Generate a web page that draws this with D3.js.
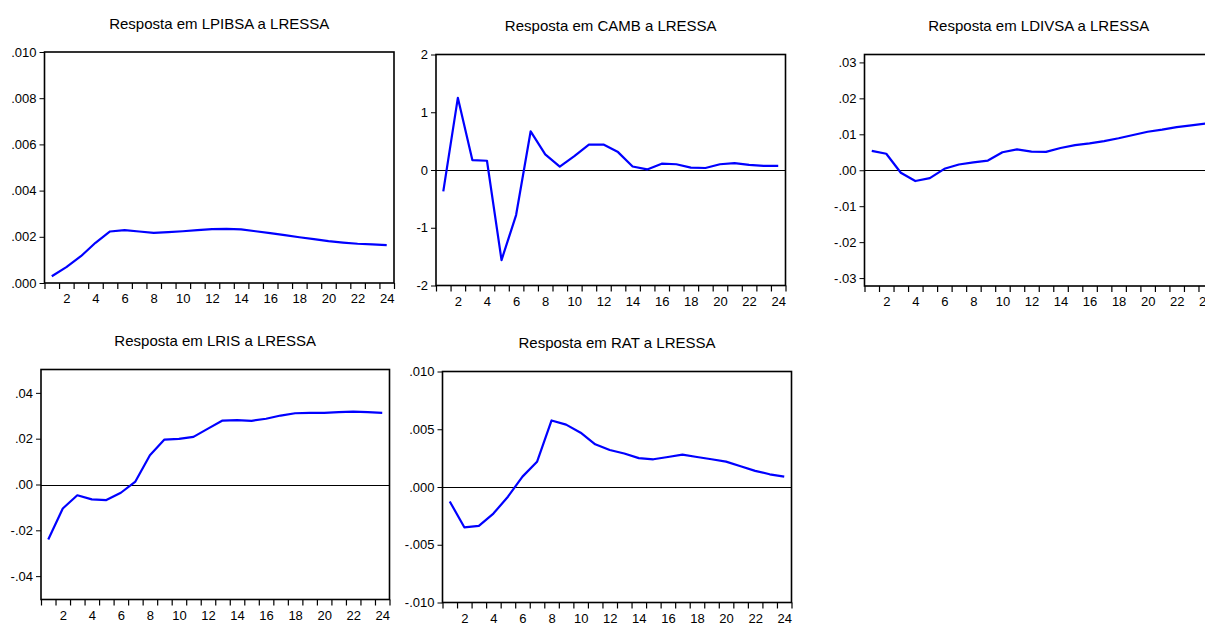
<!DOCTYPE html>
<html>
<head>
<meta charset="utf-8">
<script src="https://cdn.jsdelivr.net/npm/d3@7"></script>
<style>
  body { margin: 0; background: #fff; }
  svg { display: block; }
  text { font-family: "Liberation Sans", Arial, sans-serif; fill: #000; }
</style>
</head>
<body>
<svg id="chart" width="1205" height="624"></svg>
<script>
// periods after the shock
var periods = [1,2,3,4,5,6,7,8,9,10,11,12,13,14,15,16,17,18,19,20,21,22,23,24];
var xLabels = [2,4,6,8,10,12,14,16,18,20,22,24];

// responses to LRESSA
var lpibsa = [0.00029,0.00069,0.00116,0.00174,0.00223,0.00229,0.00223,0.00217,0.00220,0.00224,0.00229,0.00233,
              0.00234,0.00232,0.00224,0.00216,0.00207,0.00198,0.00190,0.00181,0.00175,0.00170,0.00167,0.00164];
var camb   = [-0.37,1.25,0.17,0.16,-1.56,-0.78,0.67,0.27,0.06,0.24,0.44,0.44,
              0.31,0.06,0.01,0.11,0.10,0.04,0.035,0.10,0.12,0.09,0.07,0.07];
var ldivsa = [0.0054,0.0046,-0.0007,-0.0030,-0.0022,0.0004,0.0016,0.0022,0.0027,0.0050,0.0058,0.0052,
              0.0051,0.0062,0.0070,0.0075,0.0081,0.0089,0.0098,0.0107,0.0113,0.0120,0.0125,0.0130];
var lris   = [-0.0240,-0.0105,-0.0047,-0.0065,-0.0068,-0.0036,0.0013,0.0128,0.0196,0.0199,0.0208,0.0244,
              0.0279,0.0281,0.0278,0.0287,0.0301,0.0311,0.0313,0.0313,0.0316,0.0318,0.0316,0.0313];
var rat    = [-0.00125,-0.00349,-0.00337,-0.0023,-0.00084,0.0009,0.00218,0.00576,0.0054,0.0047,0.0037,0.0032,
              0.0029,0.0025,0.0024,0.0026,0.0028,0.0026,0.0024,0.0022,0.0018,0.0014,0.0011,0.0009];

// y ticks
var ticksLpibsa = [0, 0.002, 0.004, 0.006, 0.008, 0.010];
var labelsLpibsa = [".000", ".002", ".004", ".006", ".008", ".010"];
var ticksCamb = [-2, -1, 0, 1, 2];
var labelsCamb = ["-2", "-1", "0", "1", "2"];
var ticksLdivsa = [-0.03, -0.02, -0.01, 0, 0.01, 0.02, 0.03];
var labelsLdivsa = ["-.03", "-.02", "-.01", ".00", ".01", ".02", ".03"];
var ticksLris = [-0.04, -0.02, 0, 0.02, 0.04];
var labelsLris = ["-.04", "-.02", ".00", ".02", ".04"];
var ticksRat = [-0.010, -0.005, 0, 0.005, 0.010];
var labelsRat = ["-.010", "-.005", ".000", ".005", ".010"];

var panels = [
  {title: "Resposta em LPIBSA a LRESSA", values: lpibsa, domain: [0, 0.010], ticks: ticksLpibsa, labels: labelsLpibsa,
   x0: 44.5, x1: 394, y0: 52, y1: 283, zero: false},
  {title: "Resposta em CAMB a LRESSA", values: camb, domain: [-2, 2], ticks: ticksCamb, labels: labelsCamb,
   x0: 436, x1: 785.5, y0: 54.5, y1: 285.5, zero: true},
  {title: "Resposta em LDIVSA a LRESSA", values: ldivsa, domain: [-0.0322, 0.0322], ticks: ticksLdivsa, labels: labelsLdivsa,
   x0: 864.5, x1: 1213, y0: 54.5, y1: 286, zero: true},
  {title: "Resposta em LRIS a LRESSA", values: lris, domain: [-0.0502, 0.0502], ticks: ticksLris, labels: labelsLris,
   x0: 41, x1: 389.5, y0: 369.5, y1: 599.5, zero: true},
  {title: "Resposta em RAT a LRESSA", values: rat, domain: [-0.010, 0.010], ticks: ticksRat, labels: labelsRat,
   x0: 442.5, x1: 791.5, y0: 371.5, y1: 602.5, zero: true}
];

var svg = d3.select("#chart");

panels.forEach(function(p) {
  var g = svg.append("g");

  var x = d3.scaleLinear().domain([0.5, 24.5]).range([p.x0, p.x1]);
  var y = d3.scaleLinear().domain(p.domain).range([p.y1, p.y0]);

  // title
  g.append("text")
    .attr("x", (p.x0 + p.x1) / 2)
    .attr("y", p.y0 - 23.5)
    .attr("text-anchor", "middle")
    .attr("font-size", "15px")
    .text(p.title);

  // zero line, snapped to the pixel grid so it stays black
  if (p.zero) {
    var zy = Math.round(y(0)) + 0.5;
    g.append("line")
      .attr("x1", p.x0).attr("x2", p.x1)
      .attr("y1", zy).attr("y2", zy)
      .attr("stroke", "#000").attr("stroke-width", 1);
  }

  // response line
  var line = d3.line()
    .x(function(d, i) { return x(periods[i]); })
    .y(function(d) { return y(d); });
  g.append("path")
    .datum(p.values)
    .attr("d", line)
    .attr("fill", "none")
    .attr("stroke", "#0000ff")
    .attr("stroke-width", 2.2)
    .attr("stroke-linejoin", "round");

  // y axis
  var ya = g.append("g")
    .attr("transform", "translate(" + p.x0 + ",0)")
    .call(d3.axisLeft(y).tickValues(p.ticks).tickSize(5).tickPadding(3)
      .tickFormat(function(d, i) { return p.labels[i]; }));
  ya.select(".domain").remove();
  ya.selectAll("text").attr("font-size", "13px").attr("font-family", null);
  ya.selectAll("line").attr("stroke", "#000");

  // x ticks on bin edges
  var edges = periods.map(function(d) { return d - 0.5; }).concat([24.5]);
  var xt = g.append("g")
    .attr("transform", "translate(0," + p.y1 + ")")
    .call(d3.axisBottom(x).tickValues(edges).tickSize(6).tickFormat(""));
  xt.select(".domain").remove();
  xt.selectAll("line").attr("stroke", "#000").attr("stroke-width", 1.2);

  // x labels at period centres
  var xl = g.append("g")
    .attr("transform", "translate(0," + p.y1 + ")")
    .call(d3.axisBottom(x).tickValues(xLabels).tickSize(0).tickPadding(11).tickFormat(d3.format("d")));
  xl.select(".domain").remove();
  xl.selectAll("text").attr("font-size", "13px").attr("font-family", null);

  // frame
  g.append("rect")
    .attr("x", p.x0).attr("y", p.y0)
    .attr("width", p.x1 - p.x0).attr("height", p.y1 - p.y0)
    .attr("fill", "none")
    .attr("stroke", "#000")
    .attr("stroke-width", 1.6);
});
</script>
</body>
</html>
